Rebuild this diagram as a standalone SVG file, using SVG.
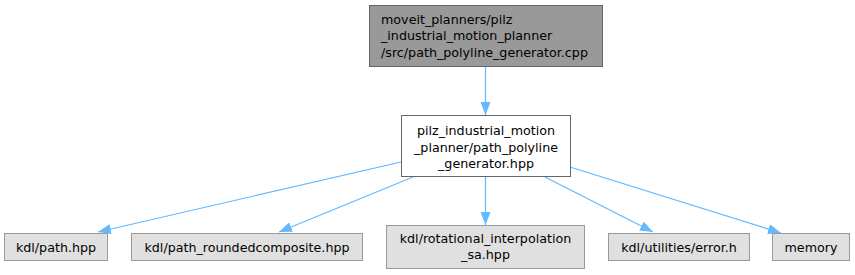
<svg xmlns="http://www.w3.org/2000/svg" width="855" height="275" viewBox="0 0 855 275">
<defs>
<style>
text{font-family:"DejaVu Sans",sans-serif;font-size:12.7px;fill:#000}
.c{text-anchor:middle}
.root{fill:#999999;stroke:#666666;stroke-width:1}
.mid{fill:#ffffff;stroke:#666666;stroke-width:1}
.leaf{fill:#e0e0e0;stroke:#999999;stroke-width:1}
.e{fill:none;stroke:#63b8ff;stroke-width:1.2}
</style>
<marker id="ah" viewBox="0 0 13 10" refX="13" refY="5" markerWidth="13" markerHeight="10" markerUnits="userSpaceOnUse" orient="auto">
<path d="M0,0 L13,5 L0,10 Z" fill="#63b8ff"/>
</marker>
</defs>
<rect width="855" height="275" fill="#ffffff"/>
<g id="edges">
<path class="e" d="M485.5,67 L485.5,115" marker-end="url(#ah)"/>
<path class="e" d="M401,162 L98,232" marker-end="url(#ah)"/>
<path class="e" d="M413,177 L279,232" marker-end="url(#ah)"/>
<path class="e" d="M485.5,176 L485.5,225" marker-end="url(#ah)"/>
<path class="e" d="M545,177 L653,232" marker-end="url(#ah)"/>
<path class="e" d="M570,167 L781,233" marker-end="url(#ah)"/>
</g>
<g id="node_root">
<rect class="root" x="369.5" y="5.5" width="233" height="61"/>
<text x="381" y="23.5">moveit_planners/pilz</text>
<text x="381" y="40">_industrial_motion_planner</text>
<text x="381" y="56.5">/src/path_polyline_generator.cpp</text>
</g>
<g id="node_mid">
<rect class="mid" x="401.5" y="115.5" width="169" height="61"/>
<text class="c" x="486" y="135">pilz_industrial_motion</text>
<text class="c" x="486" y="151.5">_planner/path_polyline</text>
<text class="c" x="486" y="168">_generator.hpp</text>
</g>
<g id="node_path">
<rect class="leaf" x="4.5" y="233.5" width="103" height="27"/>
<text class="c" x="56" y="251.5">kdl/path.hpp</text>
</g>
<g id="node_rounded">
<rect class="leaf" x="131.5" y="233.5" width="231" height="27"/>
<text class="c" x="247" y="251.5">kdl/path_roundedcomposite.hpp</text>
</g>
<g id="node_rot">
<rect class="leaf" x="386.5" y="225.5" width="198" height="43"/>
<text class="c" x="485.5" y="242.5">kdl/rotational_interpolation</text>
<text class="c" x="485.5" y="258.5">_sa.hpp</text>
</g>
<g id="node_error">
<rect class="leaf" x="608.5" y="233.5" width="141" height="27"/>
<text class="c" x="679" y="251.5">kdl/utilities/error.h</text>
</g>
<g id="node_memory">
<rect class="leaf" x="772.5" y="233.5" width="77" height="27"/>
<text class="c" x="811" y="251.5">memory</text>
</g>
</svg>
